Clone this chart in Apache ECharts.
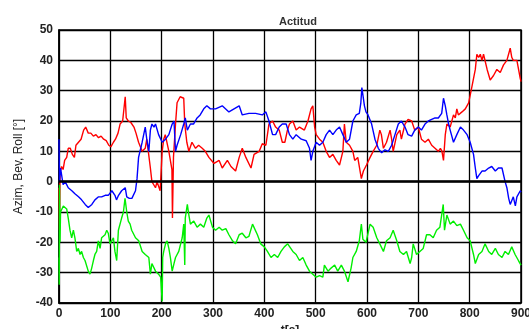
<!DOCTYPE html>
<html>
<head>
<meta charset="utf-8">
<script src="https://cdn.jsdelivr.net/npm/echarts@6/dist/echarts.min.js"></script>
<style>
html, body { margin: 0; padding: 0; background: #fff; }
#chart { width: 529px; height: 329px; }
</style>
</head>
<body>
<div id="chart"></div>
<script>
// [t (s), angle (deg)]
let azim = [
  [0, -2], [1, -16], [2, 3], [5, 5], [8, 4], [11, 7], [15, 8], [18, 11], [22, 11], [26, 9], [30, 8], [33, 12],
  [38, 13], [43, 14], [48, 17], [52, 18], [57, 16], [62, 16], [67, 15], [72, 15.5], [77, 14.5], [82, 15],
  [87, 14], [92, 13.5], [97, 12], [101, 11.5], [106, 13], [110, 14], [115, 16], [119, 19], [124, 20],
  [127, 20], [129, 28], [131, 21], [135, 20], [140, 19.5], [146, 18], [150, 16], [155, 13], [162, 10],
  [168, 11], [171, 14], [178, 4.5], [181, 0], [188, -2], [191, 0], [197, -3], [201, 10], [204, 14],
  [207, 15.5], [214, 10], [220, 4], [221, -12], [223, 8], [227, 19], [230, 26], [236, 28], [243, 27.5],
  [245, 19], [249, 13], [253, 10], [259, 13], [266, 11], [272, 12], [279, 11], [285, 10], [292, 8],
  [302, 6], [312, 7], [318, 4.5], [328, 7], [335, 5], [344, 3.5], [351, 8], [357, 11], [364, 8], [374, 4.5],
  [380, 9], [390, 10], [396, 12.5], [403, 12], [409, 19], [416, 20], [422, 18], [429, 17], [435, 13],
  [440, 13], [445, 17], [449, 19], [455.5, 20], [462, 17], [468.5, 18], [478, 17], [485, 20], [491, 24],
  [494.5, 25], [498, 18], [501, 15.5], [507.5, 14], [514, 13], [520.5, 10], [527, 8], [533.5, 9], [540, 7],
  [546.5, 5.5], [553, 10], [556, 19], [559.5, 13], [566, 12], [572.5, 10], [576, 7], [582, 8], [589, 1],
  [593, 3.5], [599, 5.5], [606, 8], [612, 10], [619, 12], [625, 17], [628, 15.5], [632, 11], [638, 13],
  [645, 17], [648, 14], [651, 10], [658, 15.5], [664, 17], [667, 14], [674, 19], [680, 20.5], [687, 20],
  [693, 17], [700, 18], [706, 14], [713, 13], [719.5, 14], [726, 12], [732.5, 11], [739, 10], [743, 11],
  [746, 10], [749, 7], [752.5, 15.5], [755.6, 19], [762, 18], [768.5, 22], [772, 21], [775, 24], [778, 22],
  [785, 23], [791.5, 24], [798, 26], [804, 31], [811, 37], [814, 42], [817.5, 41], [820.7, 42], [824, 40],
  [827, 42], [834, 37], [840, 33.5], [846.5, 35], [853, 37], [859.6, 36], [866, 38.5], [872.5, 40],
  [879, 44], [882, 41], [885, 40], [892, 40], [898.6, 34], [900, 33]
];
let bev = [
  [0, 14], [1, 0], [3, 4.5], [8, -1], [12, 0], [18, -2], [25, -3], [31, -4], [38, -5], [44, -6], [51, -7.5],
  [57, -8.5], [64, -7.5], [70, -6], [77, -5], [83, -5], [90, -4.5], [96, -4.5], [103, -3], [109, -4.5],
  [112, -6], [116, -4.5], [122, -3], [129, -2], [132, -5], [137, -5.5], [142, -5.5], [149, -3], [152, 1],
  [155, 8], [162, 13], [168, 18], [171, 14], [175, 10], [178, 17], [181, 19], [185, 18], [188, 19],
  [194, 15.5], [201, 13], [207.5, 14], [214, 15.5], [220.5, 19], [224, 20], [227, 10], [230, 12],
  [237, 15.5], [243, 19], [246, 21], [250, 17], [256, 19], [262, 19], [269, 21], [275, 22], [282, 24],
  [288, 25], [295, 24], [305, 24], [318, 25], [331, 23], [341, 24], [351, 25], [357, 22], [370, 22.5],
  [383, 22.5], [396, 22], [403, 23], [409, 20], [416, 15.5], [422, 15.5], [429, 18], [435, 19], [442.5, 19],
  [449, 15.5], [455.5, 14], [462, 15.5], [472, 14], [481.5, 13.5], [488, 11], [491, 7], [494.5, 10],
  [501, 13], [507.5, 12], [514, 13], [520.5, 15.5], [527, 17], [533.5, 15.5], [540, 17], [546.5, 18],
  [553, 15.5], [559.5, 13], [566, 14], [572.5, 20], [579, 22], [585, 22.5], [588, 26], [590, 31], [595, 25],
  [598, 23], [602, 22], [609, 19], [615.5, 14], [622, 11], [628.5, 9.5], [635, 10.5], [641.5, 10], [648, 12],
  [654.5, 15.5], [661, 19], [667, 20], [674, 18], [680, 15.5], [687, 15], [693, 17], [700, 18], [706, 17],
  [713, 19], [719.5, 20], [726, 20.5], [732.5, 21], [739, 21], [745.5, 22.5], [749, 27.5], [752.5, 25],
  [755.6, 22], [759, 19], [762, 17], [768.5, 13], [775, 15.5], [782, 18], [788, 17], [795, 15.5], [801, 13],
  [807.5, 9], [811, 4.5], [814, 1], [817.5, 2], [824, 3.5], [830, 3.5], [837, 4.5], [843, 5], [850, 3.5],
  [856, 4.5], [863, 4.5], [869, 0], [872.5, -2], [876, -5.5], [879, -7.5], [885, -5], [889, -8], [892, -5],
  [898.6, -3], [900, -3.5]
];
let roll = [
  [0, -25], [0.5, -34], [1, -1], [2, -20], [3, -10], [5, -10], [8.4, -8], [11.7, -8.5], [15, -9], [18, -12],
  [21.4, -16], [24.7, -18.5], [28, -16], [31, -18.5], [34.5, -23], [37.7, -22], [41, -24], [44, -23],
  [47.5, -25], [50.7, -26], [57, -29.5], [60.4, -30.5], [63.7, -28.5], [67, -26], [70, -24], [73.4, -23],
  [76.6, -19.5], [80, -22], [83, -18.5], [89.7, -17.5], [93, -16], [96, -17], [99.4, -20.5], [102.7, -19.5],
  [106, -18.5], [109, -23], [112.4, -26], [115.7, -16], [122, -12], [125.5, -10], [128.6, -5.5], [132, -10],
  [135, -13], [138.5, -14], [141.6, -16], [149, -18.5], [155.3, -19.5], [162, -23], [168, -24], [175, -25],
  [178, -30.5], [181, -27], [188, -29.5], [194, -30.5], [198, -31.5], [201, -39.5], [202, -25], [204, -23],
  [207.5, -20.5], [210.6, -19.5], [214, -22], [217, -25], [220.5, -29.5], [224, -27], [227, -25],
  [233.3, -23], [240, -18.5], [243, -14], [245, -27.5], [246, -12], [250, -7.5], [253, -11], [256, -14],
  [262.5, -13], [269, -15], [275.5, -14], [282, -15], [288, -12], [292, -11], [299, -15], [305, -16],
  [312, -15], [318, -16], [325, -15.5], [331, -17.5], [338, -19.5], [344, -20.5], [351, -17.5], [357, -17],
  [364, -18.5], [370, -18], [377, -14], [380, -13.5], [386.5, -17.5], [393, -20.5], [400, -21.5], [406, -23],
  [413, -25], [419.5, -24], [426, -25], [432.5, -23], [439, -21.5], [445.5, -20.5], [449, -20.5],
  [455.5, -23], [462, -24], [468.5, -26], [475, -25], [481.5, -27.5], [488, -29.5], [494.5, -30.5],
  [501, -31.5], [507.5, -31], [514, -31.5], [517, -27.5], [524, -29.5], [530, -28.5], [537, -27.5],
  [543, -29.5], [550, -27.5], [556, -29.5], [563, -33], [569, -28.5], [572.5, -25], [579, -23], [585, -19.5],
  [589, -14], [592, -19], [598, -20], [606, -14], [612, -15], [619, -18.5], [625, -20.5], [632, -23],
  [638, -19.5], [645, -18.5], [651, -16], [658, -19.5], [664, -23], [671, -24], [677, -23], [684, -27],
  [687, -25], [690, -20.5], [696.5, -24], [703, -23], [709.5, -22], [716, -17.5], [722.6, -17.5], [729, -18.5],
  [735.5, -16], [742, -15], [748.5, -7.5], [751, -16], [755.6, -11], [762, -14], [768.5, -13], [775, -14.5],
  [782, -14], [788, -16], [795, -18.5], [801, -19.5], [807.5, -24], [811, -27], [817.5, -24], [824, -23],
  [830, -20.5], [837, -23], [843, -24], [850, -22], [856, -24], [863, -25], [869, -23], [875.5, -24],
  [882, -21.5], [888.5, -24], [895, -26], [900, -27.5]
];
let titleText = "Actitud";
let xName = "t[s]";
let yName = "Azim, Bev, Roll [°]";

let myChart = echarts.init(document.getElementById("chart"));
let labelFont = {
  fontFamily: "Liberation Sans",
  fontSize: 12,
  fontWeight: "bold",
  color: "#222"
};
const line = (name, data, color) => ({
  name: name,
  type: "line",
  data: data,
  showSymbol: false,
  animation: false,
  lineStyle: { color: color, width: 1.4 },
  itemStyle: { color: color },
  z: 3
});
let option = {
  animation: false,
  title: {
    text: titleText,
    left: 274,
    top: 11,
    textStyle: { fontFamily: "Liberation Sans", fontSize: 11, fontWeight: "bold", color: "#333" }
  },
  grid: {
    left: 59,
    right: 8,
    top: 30,
    bottom: 26,
    outerBoundsMode: "none",
    containLabel: false,
    show: true,
    borderColor: "#000",
    borderWidth: 1.5
  },
  xAxis: {
    type: "value",
    min: 0,
    max: 900,
    interval: 100,
    name: xName,
    nameLocation: "middle",
    nameGap: 17,
    nameTextStyle: labelFont,
    axisLine: { show: true, onZero: false, lineStyle: { color: "#000", width: 1.5 } },
    axisTick: { show: true, inside: true, length: 3, lineStyle: { color: "#000" } },
    axisLabel: Object.assign({ margin: 5 }, labelFont),
    splitLine: { show: true, lineStyle: { color: "#000", width: 1.3 } }
  },
  yAxis: {
    type: "value",
    min: -40,
    max: 50,
    interval: 10,
    name: yName,
    nameLocation: "middle",
    nameGap: 34,
    nameTextStyle: { fontFamily: "Liberation Sans", fontSize: 12, color: "#222" },
    axisLine: { show: true, lineStyle: { color: "#000", width: 1.5 } },
    axisTick: { show: false },
    axisLabel: Object.assign({ margin: 6 }, labelFont),
    splitLine: { show: true, lineStyle: { color: "#000", width: 1.3 } }
  },
  series: [
    line("Azim", azim, "#ff0000"),
    line("Bev", bev, "#0000ff"),
    Object.assign(line("Roll", roll, "#00ee00"), {
      markLine: {
        silent: true,
        symbol: "none",
        label: { show: false },
        lineStyle: { color: "#000", width: 2.5, type: "solid" },
        data: [{ yAxis: 0 }]
      }
    })
  ]
};
myChart.setOption(option);
</script>
</body>
</html>
